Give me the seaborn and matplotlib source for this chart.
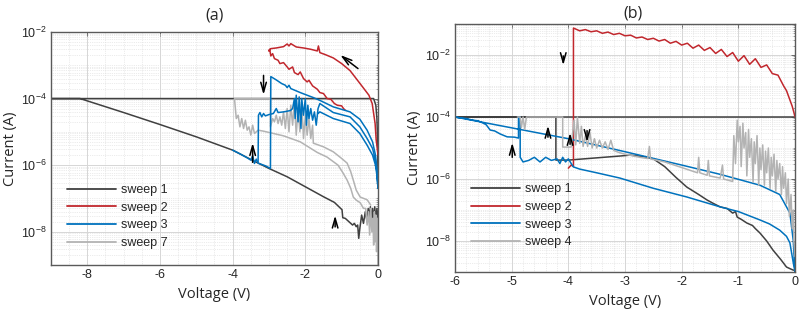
import matplotlib
matplotlib.use("Agg")
import matplotlib.pyplot as plt
import matplotlib.ticker as mticker
from matplotlib.lines import Line2D
import numpy as np
import seaborn as sns

# ---- data as (voltage V, log10 current A) ----
# panel (a)
a_sweep1 = [(0, -7.6), (-0.03, -7.3), (-0.06, -7.7), (-0.09, -7.25), (-0.12, -7.65), (-0.15, -7.3),
            (-0.18, -7.7), (-0.21, -7.25), (-0.24, -7.6), (-0.27, -7.3), (-0.3, -7.7), (-0.35, -7.4),
            (-0.4, -7.75), (-0.45, -7.5), (-0.5, -7.9), (-0.53, -8.2), (-0.56, -7.8), (-0.6, -7.85),
            (-0.65, -7.75), (-0.7, -7.8), (-0.8, -7.7), (-0.9, -7.6), (-0.97, -7.58), (-0.99, -7.34),
            (-1.2, -7.12), (-1.5, -6.95), (-2.0, -6.65), (-2.5, -6.35), (-3.0, -6.1), (-3.5, -5.83),
            (-4.0, -5.55), (-5.0, -5.15), (-6.0, -4.78), (-7.0, -4.42), (-8.2, -4.0), (-9.0, -4.0),
            (-0.12, -4.0), (-0.06, -4.2), (-0.03, -4.6), (-0.01, -5.3), (0, -6.5)]

a_sweep2 = [(0, -5.7), (-0.02, -5.5), (-0.05, -5.25), (-0.08, -4.75), (-0.16, -4.15), (-0.25, -3.9),
            (-0.41, -3.67), (-0.6, -3.4), (-0.77, -3.16), (-1.0, -2.95), (-1.23, -2.78), (-1.45, -2.68),
            (-1.6, -2.62), (-1.64, -2.42), (-1.67, -2.57), (-1.85, -2.52), (-2.05, -2.48), (-2.25, -2.45),
            (-2.4, -2.35), (-2.45, -2.42), (-2.5, -2.36), (-2.6, -2.44), (-2.8, -2.48), (-2.95, -2.5),
            (-3.01, -2.57), (-2.98, -2.52), (-2.95, -2.72), (-2.9, -2.65), (-2.85, -2.8), (-2.75, -2.85),
            (-2.7, -2.95), (-2.6, -2.92), (-2.5, -3.05), (-2.45, -3.12), (-2.35, -3.05), (-2.3, -3.22),
            (-2.2, -3.28), (-2.14, -3.2), (-2.05, -3.4), (-1.95, -3.5), (-1.9, -3.45), (-1.8, -3.62),
            (-1.67, -3.72), (-1.6, -3.82), (-1.5, -3.85), (-1.4, -4.0), (-1.3, -4.02), (-1.2, -4.15),
            (-1.12, -4.2), (-1.0, -4.22), (-0.95, -4.3), (-0.9, -4.35)]

a_sweep3_main = [(-4.0, -5.55), (-3.8, -5.66), (-3.6, -5.78), (-3.5, -5.85), (-3.45, -5.72), (-3.4, -5.95),
                 (-3.35, -5.82), (-3.3, -5.94), (-3.1, -6.02), (-2.96, -6.1), (-2.95, -3.34), (-2.8, -3.44),
                 (-2.65, -3.55), (-2.55, -3.6), (-2.5, -3.67), (-2.45, -3.6), (-2.4, -3.7), (-2.14, -3.82),
                 (-1.95, -3.9), (-1.78, -3.97), (-1.59, -4.06), (-1.23, -4.25), (-0.77, -4.4), (-0.5, -4.62),
                 (-0.3, -4.95), (-0.15, -5.3), (-0.07, -5.7), (-0.03, -6.1), (0, -6.6)]

a_sweep3_loop = [(-3.3, -5.9), (-3.29, -4.5), (-3.25, -4.42), (-3.2, -4.55), (-3.15, -4.45), (-3.1, -4.52),
                 (-3.0, -4.48), (-2.88, -4.45), (-2.8, -4.3), (-2.75, -4.42), (-2.6, -4.4), (-2.5, -4.38),
                 (-2.41, -4.36), (-2.35, -4.3), (-2.3, -4.0), (-2.28, -4.6), (-2.25, -3.9), (-2.2, -4.7),
                 (-2.17, -3.95), (-2.12, -4.9), (-2.1, -4.0), (-2.05, -4.5), (-2.0, -4.0), (-1.97, -4.8),
                 (-1.93, -4.2), (-1.9, -4.6), (-1.85, -4.3), (-1.8, -4.65), (-1.75, -4.4), (-1.7, -4.8),
                 (-1.65, -4.3), (-1.6, -4.15), (-1.23, -4.42), (-0.77, -4.55), (-0.5, -4.85), (-0.3, -5.2),
                 (-0.15, -5.5), (-0.07, -5.85), (-0.03, -6.2), (0, -6.7), (-0.03, -6.3), (-0.07, -6.0),
                 (-0.15, -5.7), (-0.3, -5.4), (-0.5, -5.05), (-0.77, -4.75), (-1.23, -4.6), (-1.6, -4.4),
                 (-1.65, -4.45)]

a_sweep7 = [(0, -9.0), (0, -8.2), (-0.02, -7.6), (-0.04, -8.6), (-0.06, -7.5), (-0.08, -8.3), (-0.1, -7.4),
            (-0.12, -8.4), (-0.14, -7.6), (-0.17, -8.0), (-0.2, -7.3), (-0.23, -8.1), (-0.26, -7.4),
            (-0.3, -7.8), (-0.34, -7.3), (-0.4, -7.3), (-0.49, -7.13), (-0.6, -7.05), (-0.68, -6.96),
            (-0.75, -6.7), (-0.85, -6.45), (-0.96, -6.24), (-1.1, -6.0), (-1.4, -5.76), (-1.67, -5.62),
            (-2.14, -5.3), (-2.6, -5.12), (-3.15, -4.98), (-3.3, -4.95), (-3.4, -5.05), (-3.45, -4.8),
            (-3.5, -5.1), (-3.55, -4.85), (-3.6, -4.95), (-3.65, -4.65), (-3.7, -4.9), (-3.75, -4.6),
            (-3.8, -4.85), (-3.85, -4.5), (-3.9, -4.6), (-3.95, -4.0), (-2.96, -4.0), (-2.96, -4.85),
            (-2.9, -4.6), (-2.85, -4.7), (-2.8, -4.5), (-2.75, -4.75), (-2.7, -4.55), (-2.65, -4.8),
            (-2.6, -4.4), (-2.55, -4.9), (-2.5, -4.3), (-2.45, -5.0), (-2.4, -4.2), (-2.35, -4.8),
            (-2.3, -4.1), (-2.25, -5.1), (-2.2, -4.3), (-2.15, -5.0), (-2.1, -4.1), (-2.05, -5.2),
            (-2.0, -4.5), (-1.95, -5.1), (-1.9, -4.6), (-1.85, -5.2), (-1.8, -4.8), (-1.78, -5.34),
            (-1.5, -5.45), (-1.23, -5.6), (-1.0, -5.8), (-0.85, -5.94), (-0.75, -6.2), (-0.68, -6.45),
            (-0.6, -6.75), (-0.49, -6.96), (-0.3, -7.04), (-0.2, -7.2)]

# panel (b)
b_sweep1 = [(0, -8.94), (-0.03, -8.94), (-0.08, -8.9), (-0.15, -8.84), (-0.25, -8.6), (-0.39, -8.29),
            (-0.5, -8.0), (-0.62, -7.74), (-0.7, -7.6), (-0.75, -7.5), (-0.85, -7.42), (-0.95, -7.3),
            (-1.02, -7.23), (-1.05, -7.05), (-1.1, -7.1), (-1.2, -6.95), (-1.32, -6.9), (-1.45, -6.78),
            (-1.55, -6.68), (-1.7, -6.5), (-1.91, -6.26), (-2.1, -5.95), (-2.3, -5.6), (-2.5, -5.35),
            (-2.7, -5.27), (-2.91, -5.23), (-3.1, -5.26), (-4.0, -5.39), (-4.22, -5.39), (-4.22, -4.0),
            (-6.0, -4.0), (0, -4.0)]

b_sweep2 = [(-4.0, -5.65), (-3.95, -5.55), (-3.91, -5.6), (-3.91, -1.13), (-3.8, -1.22), (-3.7, -1.18),
            (-3.6, -1.25), (-3.5, -1.22), (-3.4, -1.3), (-3.3, -1.26), (-3.2, -1.34), (-3.1, -1.3),
            (-3.0, -1.38), (-2.9, -1.36), (-2.8, -1.45), (-2.7, -1.42), (-2.6, -1.5), (-2.5, -1.46),
            (-2.4, -1.55), (-2.3, -1.5), (-2.2, -1.62), (-2.1, -1.56), (-2.0, -1.68), (-1.9, -1.62),
            (-1.8, -1.78), (-1.7, -1.68), (-1.6, -1.85), (-1.5, -1.76), (-1.4, -1.95), (-1.3, -1.82),
            (-1.2, -2.05), (-1.1, -1.92), (-1.0, -2.2), (-0.9, -2.02), (-0.8, -2.3), (-0.7, -2.12),
            (-0.6, -2.4), (-0.5, -2.32), (-0.4, -2.6), (-0.3, -2.65), (-0.2, -3.0), (-0.15, -3.15),
            (-0.1, -3.4), (-0.05, -3.65), (-0.02, -3.85), (0, -4.0)]

b_sweep3 = [(0, -9.0), (-0.03, -8.71), (-0.09, -8.06), (-0.15, -7.85), (-0.27, -7.65), (-0.45, -7.45),
            (-0.62, -7.32), (-1.0, -7.05), (-1.32, -6.9), (-1.91, -6.58), (-2.5, -6.3), (-3.09, -5.97),
            (-3.5, -5.8), (-3.8, -5.68), (-3.91, -5.61), (-3.95, -5.5), (-4.0, -5.35), (-4.05, -5.45),
            (-4.1, -5.3), (-4.15, -5.5), (-4.2, -5.35), (-4.3, -5.4), (-4.4, -5.3), (-4.5, -5.45),
            (-4.6, -5.3), (-4.7, -5.4), (-4.8, -5.45), (-4.85, -5.3), (-4.85, -4.0), (-4.88, -4.0),
            (-4.88, -4.68), (-4.95, -4.65), (-5.08, -4.64), (-5.2, -4.55), (-5.3, -4.45), (-5.38, -4.42),
            (-5.45, -4.25), (-5.5, -4.2), (-5.6, -4.12), (-5.7, -4.1), (-5.8, -4.05), (-5.91, -4.03),
            (-6.0, -4.0), (-5.0, -4.35), (-4.0, -4.7), (-3.0, -5.12), (-2.0, -5.55), (-1.32, -5.85),
            (-0.62, -6.2), (-0.27, -6.5), (-0.09, -7.1), (-0.03, -8.0), (0, -9.0)]

b_sweep4 = [(-4.9, -4.0), (-4.85, -4.0), (-4.83, -4.35), (-4.8, -4.0), (-4.77, -4.4), (-4.74, -4.0),
            (-4.1, -4.0), (-4.1, -4.97), (-3.95, -4.97), (-3.9, -4.1), (-3.87, -4.9), (-3.84, -4.0),
            (-3.8, -4.85), (-3.77, -4.3), (-3.74, -4.95), (-3.7, -4.6), (-3.66, -4.95), (-3.62, -4.5),
            (-3.58, -5.0), (-3.54, -4.7), (-3.5, -5.0), (-3.45, -4.75), (-3.4, -5.0), (-3.35, -4.8),
            (-3.3, -5.05), (-3.25, -4.75), (-3.2, -5.08), (-3.1, -5.15), (-3.0, -5.2), (-2.74, -5.3),
            (-2.6, -5.34), (-2.57, -4.95), (-2.55, -5.35), (-2.3, -5.45), (-2.0, -5.63), (-1.72, -5.8),
            (-1.7, -5.3), (-1.68, -5.8), (-1.55, -5.88), (-1.53, -5.4), (-1.51, -5.9), (-1.32, -5.97),
            (-1.28, -5.55), (-1.26, -6.0), (-1.1, -6.08), (-1.08, -4.6), (-1.05, -5.5), (-1.02, -4.1),
            (-1.0, -4.8), (-0.97, -4.3), (-0.95, -5.6), (-0.92, -4.2), (-0.9, -5.0), (-0.87, -4.5),
            (-0.85, -5.9), (-0.82, -4.4), (-0.8, -5.3), (-0.77, -4.7), (-0.74, -6.1), (-0.72, -4.8),
            (-0.7, -5.5), (-0.67, -4.6), (-0.64, -6.2), (-0.62, -5.0), (-0.6, -5.7), (-0.57, -4.9),
            (-0.54, -6.2), (-0.52, -5.1), (-0.5, -5.8), (-0.47, -5.0), (-0.44, -6.3), (-0.42, -5.3),
            (-0.4, -5.9), (-0.37, -5.2), (-0.34, -6.4), (-0.32, -5.4), (-0.3, -6.0), (-0.27, -5.5),
            (-0.24, -6.5), (-0.22, -5.6), (-0.2, -6.3), (-0.17, -5.8), (-0.15, -6.8), (-0.12, -6.0),
            (-0.1, -7.2), (-0.07, -6.5), (-0.05, -7.6), (-0.03, -7.0), (-0.02, -8.0), (0, -8.5)]

# arrows: (V, log10 I start, log10 I end) vertical ones, plus one slanted one in (a)
a_arrows = [(-3.15, -3.22, -3.97), (-3.45, -6.0, -5.25), (-1.18, -7.94, -7.43)]
a_slant = ((-0.49, -3.15), (-1.1, -2.64))
b_arrows = [(-4.09, -1.94, -2.42), (-4.99, -5.39, -4.74), (-4.36, -4.74, -4.19),
            (-3.97, -4.97, -4.42), (-3.67, -4.35, -4.9)]

a_labels = ["sweep 1", "sweep 2", "sweep 3", "sweep 7"]
b_labels = ["sweep 1", "sweep 2", "sweep 3", "sweep 4"]

dark = "#404040"
red = "#c1272d"
blue = "#0072bd"
light = "#b3b3b3"

sns.set_theme(style="white")
plt.rcParams["font.family"] = ["Liberation Sans", "DejaVu Sans"]
plt.rcParams["axes.unicode_minus"] = False

fig = plt.figure(figsize=(7.99, 3.13), dpi=100)
ax1 = fig.add_axes([0.0638, 0.1534, 0.4093, 0.7444])
ax2 = fig.add_axes([0.5695, 0.131, 0.4255, 0.7923])


def draw(ax, pts, color):
    v, li = zip(*pts)
    sns.lineplot(x=list(v), y=list(10.0 ** np.array(li)), sort=False, estimator=None,
                 color=color, lw=1.1, ax=ax)


for ax in (ax1, ax2):
    ax.set_yscale("log")

draw(ax1, a_sweep1, dark)
draw(ax1, a_sweep2, red)
draw(ax1, a_sweep7, light)
draw(ax1, a_sweep3_loop, blue)
draw(ax1, a_sweep3_main, blue)

draw(ax2, b_sweep1, dark)
draw(ax2, b_sweep2, red)
draw(ax2, b_sweep3, blue)
draw(ax2, b_sweep4, light)

arrow_style = dict(arrowstyle="->, head_length=0.7, head_width=0.2", color="black",
                   lw=1.1, mutation_scale=10)
for x, y0, y1 in a_arrows:
    ax1.annotate("", xy=(x, 10 ** y1), xytext=(x, 10 ** y0), arrowprops=arrow_style)
ax1.annotate("", xy=(a_slant[1][0], 10 ** a_slant[1][1]),
             xytext=(a_slant[0][0], 10 ** a_slant[0][1]), arrowprops=arrow_style)
for x, y0, y1 in b_arrows:
    ax2.annotate("", xy=(x, 10 ** y1), xytext=(x, 10 ** y0), arrowprops=arrow_style)

ax1.set_xlim(-9, 0)
ax1.set_ylim(1e-9, 1e-2)
ax1.set_xticks([-8, -6, -4, -2, 0])
ax1.xaxis.set_minor_locator(mticker.MultipleLocator(0.5))
ax2.set_xlim(-6, 0)
ax2.set_ylim(1e-9, 1e-1)
ax2.set_xticks([-6, -5, -4, -3, -2, -1, 0])
ax2.xaxis.set_minor_locator(mticker.MultipleLocator(0.2))

for ax in (ax1, ax2):
    ax.yaxis.set_major_locator(mticker.FixedLocator([1e-8, 1e-6, 1e-4, 1e-2]))
    ax.yaxis.set_major_formatter(mticker.LogFormatterSciNotation())
    ax.yaxis.set_minor_locator(mticker.LogLocator(base=10, subs=np.arange(1, 10), numticks=50))
    ax.yaxis.set_minor_formatter(mticker.NullFormatter())
    ax.grid(True, which="major", color="#d6d6d6", lw=0.7)
    ax.grid(True, which="minor", color="#d9d9d9", lw=0.5, ls=":")
    ax.set_axisbelow(True)
    for s in ax.spines.values():
        s.set_color("#5a5a5a")
        s.set_linewidth(1.0)
    ax.tick_params(which="major", direction="in", top=True, right=True, length=3,
                   width=0.6, color="#5a5a5a", labelsize=9, pad=3)
    ax.tick_params(which="minor", direction="in", top=False, right=True, length=1.5,
                   width=0.4, color="#5a5a5a")
    ax.set_xlabel("Voltage (V)", family="Open Sans", fontsize=10.5, labelpad=4)
    ax.set_ylabel("Current (A)", family="Open Sans", fontsize=10.5, labelpad=2)

handles1 = [Line2D([], [], color=c, lw=1.3) for c in (dark, red, blue, light)]
ax1.legend(handles1, a_labels, loc="lower left", bbox_to_anchor=(0.015, 0.02), frameon=False,
           fontsize=9, handlelength=3.9, handletextpad=0.4, labelspacing=0.45)
ax2.legend(handles1, b_labels, loc="lower left", bbox_to_anchor=(0.015, 0.05), frameon=False,
           fontsize=9, handlelength=3.9, handletextpad=0.4, labelspacing=0.45)

fig.text(0.268, 0.952, "(a)", ha="center", va="center", family="Open Sans", fontsize=11.5)
fig.text(0.792, 0.958, "(b)", ha="center", va="center", family="Open Sans", fontsize=11.5)

fig.savefig("out.png", dpi=100)
